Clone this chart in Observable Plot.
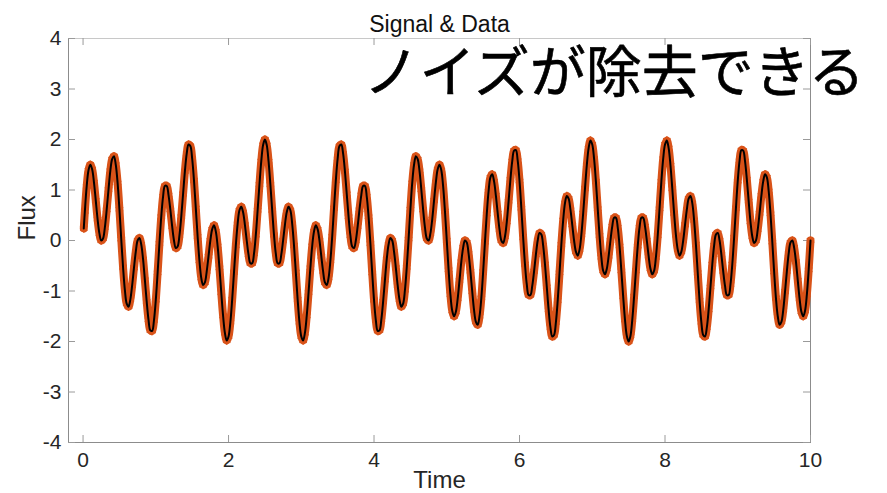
<!DOCTYPE html>
<html>
<head>
<meta charset="utf-8">
<script src="https://cdn.jsdelivr.net/npm/d3@7"></script>
<script src="https://cdn.jsdelivr.net/npm/@observablehq/plot@0.6"></script>
<style>
  html, body { margin: 0; padding: 0; background: #fff; }
  #chart svg { display: block; }
</style>
</head>
<body>
<div id="chart"></div>
<script>
const flux = [
  0.24, 0.58, 1.07, 1.39, 1.50, 1.41, 1.15, 0.79, 0.42, 0.14,
  0.00, 0.04, 0.26, 0.61, 1.01, 1.38, 1.61, 1.67, 1.50, 1.14,
  0.62, 0.03, -0.53, -0.98, -1.25, -1.31, -1.17, -0.89, -0.54, -0.22,
  0.00, 0.05, -0.08, -0.37, -0.78, -1.21, -1.57, -1.78, -1.79, -1.58,
  -1.18, -0.64, -0.06, 0.47, 0.87, 1.08, 1.08, 0.90, 0.61, 0.28,
  0.00, -0.15, -0.12, 0.10, 0.47, 0.92, 1.37, 1.72, 1.90, 1.87,
  1.62, 1.19, 0.64, 0.08, -0.40, -0.74, -0.88, -0.83, -0.61, -0.31,
  0.00, 0.22, 0.30, 0.18, -0.11, -0.54, -1.03, -1.49, -1.83, -1.98,
  -1.90, -1.62, -1.17, -0.63, -0.10, 0.33, 0.60, 0.67, 0.56, 0.31,
  0.00, -0.28, -0.45, -0.45, -0.26, 0.11, 0.60, 1.11, 1.57, 1.89,
  2.00,
  1.89, 1.57, 1.11, 0.60, 0.11, -0.26, -0.45, -0.45, -0.28, 0.00,
  0.31, 0.56, 0.67, 0.60, 0.33, -0.10, -0.63, -1.17, -1.62, -1.90,
  -1.98, -1.83, -1.49, -1.03, -0.54, -0.11, 0.18, 0.30, 0.22, 0.00,
  -0.31, -0.61, -0.83, -0.88, -0.74, -0.40, 0.08, 0.64, 1.19, 1.62,
  1.87, 1.90, 1.72, 1.37, 0.92, 0.47, 0.10, -0.12, -0.15, 0.00,
  0.28, 0.61, 0.90, 1.08, 1.08, 0.87, 0.47, -0.06, -0.64, -1.18,
  -1.58, -1.79, -1.78, -1.57, -1.21, -0.78, -0.37, -0.08, 0.05, 0.00,
  -0.22, -0.54, -0.89, -1.17, -1.31, -1.25, -0.98, -0.53, 0.03, 0.62,
  1.14, 1.50, 1.67, 1.61, 1.38, 1.01, 0.61, 0.26, 0.04, 0.00,
  0.14, 0.42, 0.79, 1.15, 1.41, 1.50, 1.39, 1.07, 0.58, 0.00,
  -0.58, -1.07, -1.39, -1.50, -1.41, -1.15, -0.79, -0.42, -0.14, 0.00,
  -0.04, -0.26, -0.61, -1.01, -1.38, -1.61, -1.67, -1.50, -1.14, -0.62,
  -0.03, 0.53, 0.98, 1.25, 1.31, 1.17, 0.89, 0.54, 0.22, 0.00,
  -0.05, 0.08, 0.37, 0.78, 1.21, 1.57, 1.78, 1.79, 1.58, 1.18,
  0.64, 0.06, -0.47, -0.87, -1.08, -1.08, -0.90, -0.61, -0.28, 0.00,
  0.15, 0.12, -0.10, -0.47, -0.92, -1.37, -1.72, -1.90, -1.87, -1.62,
  -1.19, -0.64, -0.08, 0.40, 0.74, 0.88, 0.83, 0.61, 0.31, 0.00,
  -0.22, -0.30, -0.18, 0.11, 0.54, 1.03, 1.49, 1.83, 1.98, 1.90,
  1.62, 1.17, 0.63, 0.10, -0.33, -0.60, -0.67, -0.56, -0.31, 0.00,
  0.28, 0.45, 0.45, 0.26, -0.11, -0.60, -1.11, -1.57, -1.89, -2.00,
  -1.89, -1.57, -1.11, -0.60, -0.11, 0.26, 0.45, 0.45, 0.28, 0.00,
  -0.31, -0.56, -0.67, -0.60, -0.33, 0.10, 0.63, 1.17, 1.62, 1.90,
  1.98, 1.83, 1.49, 1.03, 0.54, 0.11, -0.18, -0.30, -0.22, 0.00,
  0.31, 0.61, 0.83, 0.88, 0.74, 0.40, -0.08, -0.64, -1.19, -1.62,
  -1.87, -1.90, -1.72, -1.37, -0.92, -0.47, -0.10, 0.12, 0.15, 0.00,
  -0.28, -0.61, -0.90, -1.08, -1.08, -0.87, -0.47, 0.06, 0.64, 1.18,
  1.58, 1.79, 1.78, 1.57, 1.21, 0.78, 0.37, 0.08, -0.05, 0.00,
  0.22, 0.54, 0.89, 1.17, 1.31, 1.25, 0.98, 0.53, -0.03, -0.62,
  -1.14, -1.50, -1.67, -1.61, -1.38, -1.01, -0.61, -0.26, -0.04, 0.00,
  -0.14, -0.42, -0.79, -1.15, -1.41, -1.50, -1.39, -1.07, -0.58, 0.00
];
const timeStart = 0.01;
const timeStep = 0.025;

const xTicks = [0, 2, 4, 6, 8, 10];
const yTicks = [-4, -3, -2, -1, 0, 1, 2, 3, 4];
const xDomain = [-0.2, 10];
const yDomain = [-4, 4];

const titleText = "Signal & Data";
const overlayText = "ノイズが除去できる";
const xLabel = "Time";
const yLabel = "Flux";

// ---- build ----
const data = flux.map((v, i) => ({ t: i === 0 ? timeStart : i * timeStep, v }));

const W = 887, H = 493;
const mL = 68, mR = 77, mT = 38, mB = 51;
const frameW = W - mL - mR, frameH = H - mT - mB;
const latin = "'Liberation Sans', Arial, Helvetica, sans-serif";
const cjk = "'Noto Sans CJK JP', 'Noto Sans CJK SC', sans-serif";
const orange = "#D95319";
const tickColor = "#9a9a9a";
const labelColor = "#262626";

const chart = Plot.plot({
  width: W,
  height: H,
  marginLeft: mL,
  marginRight: mR,
  marginTop: mT,
  marginBottom: mB,
  style: { fontFamily: latin, background: "#fff", overflow: "visible" },
  x: { domain: xDomain },
  y: { domain: yDomain },
  marks: [
    // box
    Plot.frame({ stroke: "#8c8c8c", strokeWidth: 1 }),
    Plot.ruleY([yDomain[1]], { stroke: "#c8c8c8", strokeWidth: 1.2 }),
    // inward ticks
    Plot.ruleX(xTicks, { stroke: tickColor, insetTop: frameH - 7 }),
    Plot.ruleX(xTicks, { stroke: tickColor, insetBottom: frameH - 7 }),
    Plot.ruleY(yTicks, { stroke: tickColor, insetRight: frameW - 7 }),
    Plot.ruleY(yTicks, { stroke: tickColor, insetLeft: frameW - 7 }),
    // tick labels
    Plot.axisX({ ticks: xTicks, tickSize: 0, tickPadding: 10, fontSize: 21, color: labelColor, label: null, tickFormat: d => String(d) }),
    Plot.axisY({ ticks: yTicks, tickSize: 0, tickPadding: 7, fontSize: 21, color: labelColor, label: null, tickFormat: d => String(d) }),
    // data (orange asterisks) and signal (black line)
    Plot.line(data, { x: "t", y: "v", stroke: orange, strokeWidth: 8, curve: "catmull-rom" }),
    Plot.dot(data, { x: "t", y: "v", symbol: "asterisk", r: 4, stroke: orange, strokeWidth: 1.4 }),
    Plot.line(data, { x: "t", y: "v", stroke: "#000", strokeWidth: 2, curve: "catmull-rom" }),
    // title
    Plot.text([titleText], { text: d => d, frameAnchor: "top", dy: -14, lineAnchor: "middle", fontSize: 23, fill: "#111", fontFamily: latin }),
    // axis labels
    Plot.text([xLabel], { text: d => d, frameAnchor: "bottom", dy: 38, lineAnchor: "middle", fontSize: 24, fill: labelColor, fontFamily: latin }),
    Plot.text([yLabel], { text: d => d, frameAnchor: "left", dx: -41, rotate: -90, lineAnchor: "middle", fontSize: 24, fill: labelColor, fontFamily: latin }),
    // big overlay text
    Plot.text([overlayText], { text: d => d, frameAnchor: "top-left", dx: 295, dy: 36, textAnchor: "start", lineAnchor: "middle", fontSize: 56, fill: "#000", fontFamily: cjk, stroke: "#000", strokeWidth: 0.6 })
  ]
});

document.getElementById("chart").appendChild(chart);
</script>
</body>
</html>
